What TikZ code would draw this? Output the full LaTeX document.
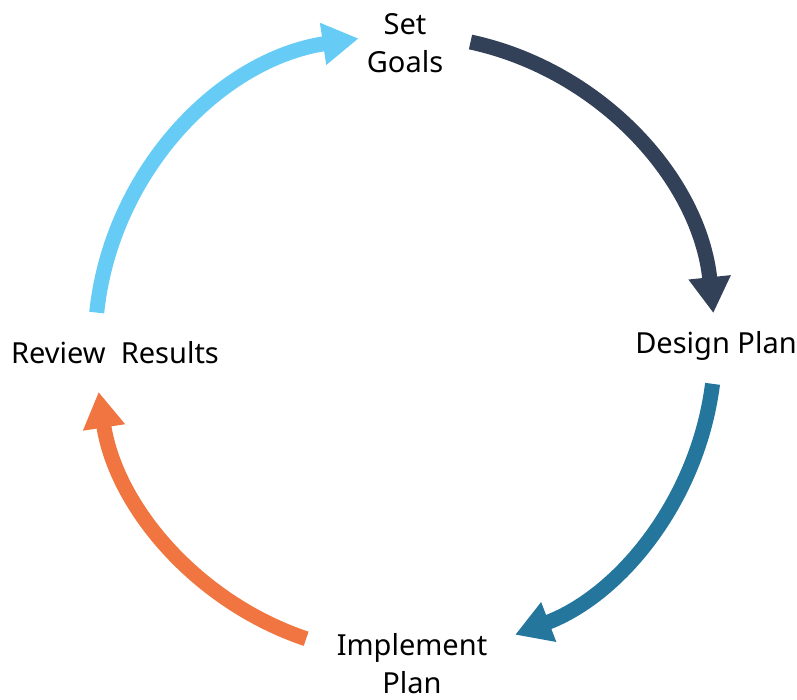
\documentclass[tikz,border=0pt]{standalone}
\usepackage{fontspec}
\setmainfont{Noto Sans}
\usetikzlibrary{arrows.meta}
\definecolor{goalblue}{HTML}{66CCF6}
\definecolor{designnavy}{HTML}{324158}
\definecolor{implementteal}{HTML}{24769C}
\definecolor{revieworange}{HTML}{F07540}
\tikzstyle{stage} = [font=\fontsize{29}{38}\selectfont, align=center, inner sep=0pt]
\tikzstyle{cyclearrow} = [line width=15pt, -{Triangle[width=40pt,length=36pt]}]

\begin{document}
\begin{tikzpicture}[x=1pt,y=1pt]
\useasboundingbox (0,0) rectangle (797,700);
%centre of the cycle
\coordinate (hub) at (405,355);
%stages
\node[stage] (goals) at (405,657) {Set\\Goals};
\node[stage] (design) at (716,354) {Design Plan};
\node[stage] (implement) at (412,36) {Implement\\Plan};
\node[stage] (review) at (115,347) {Review\ \ Results};
%arrows round the hub
\draw[cyclearrow, goalblue] ([shift={(174:310)}]hub) arc[start angle=174, end angle=98.6, radius=310];
\draw[cyclearrow, designnavy] ([shift={(77.8:310)}]hub) arc[start angle=77.8, end angle=5.9, radius=310];
\draw[cyclearrow, implementteal] ([shift={(-7.2:310)}]hub) arc[start angle=-7.2, end angle=-69.2, radius=310];
\draw[cyclearrow, revieworange] ([shift={(-108.6:310)}]hub) arc[start angle=-108.6, end angle=-171.3, radius=310];
\end{tikzpicture}
\end{document}
